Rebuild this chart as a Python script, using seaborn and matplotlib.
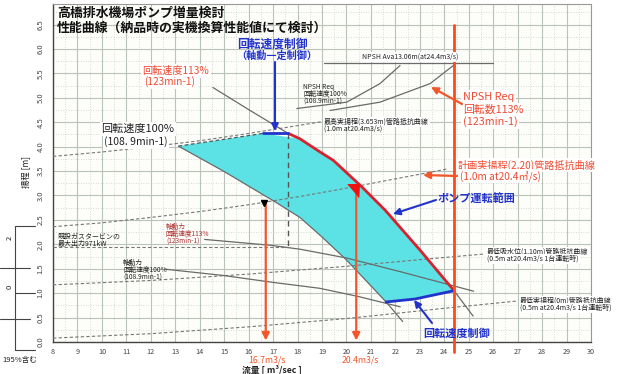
import numpy as np
import matplotlib
matplotlib.use("Agg")
import matplotlib.pyplot as plt
import seaborn as sns
from matplotlib.ticker import MultipleLocator

# ---------------- data (flow Q [m3/s], head H [m]) ----------------
q_qh100 = [13.13, 15.0, 17.08, 18.1, 19.0, 20.0, 21.0, 21.62, 22.3]
h_qh100 = [4.01, 3.49, 2.87, 2.55, 2.15, 1.68, 1.15, 0.82, 0.42]

q_qh113 = [14.54, 16.06, 17.62, 18.1, 18.92, 19.46, 20.62, 21.58, 23.01, 24.4, 25.18]
h_qh113 = [5.21, 4.74, 4.27, 4.16, 3.89, 3.72, 3.18, 2.70, 1.88, 1.05, 0.53]

q_range_top = [13.13, 16.58]
h_range_top = [4.01, 4.27]
q_speed_top = [16.58, 17.62]
h_speed_top = [4.27, 4.27]
q_speed_bot = [21.62, 22.8, 24.4]
h_speed_bot = [0.82, 0.88, 1.05]

q_sys_max = [8, 10, 12, 14, 16, 18, 19.6]
h_sys_max = [3.80, 3.89, 4.00, 4.12, 4.27, 4.43, 4.56]
q_sys_plan = [8, 10, 12, 14, 16, 18, 20, 22, 24.1]
h_sys_plan = [2.36, 2.44, 2.55, 2.67, 2.81, 2.97, 3.15, 3.34, 3.54]
q_sys_lowwl = [8, 12, 16, 20, 24, 25.6]
h_sys_lowwl = [1.17, 1.26, 1.39, 1.55, 1.73, 1.80]
q_sys_min = [8, 12, 16, 20, 24, 27.0]
h_sys_min = [0.08, 0.17, 0.31, 0.48, 0.69, 0.84]

q_pow113 = [14.2, 16.9, 18.1, 20.0, 22.2, 24.0, 25.2]
h_pow113 = [2.10, 1.98, 1.90, 1.72, 1.44, 1.20, 1.04]
q_pow100 = [12.6, 15.0, 17.0, 18.9, 20.5, 22.2]
h_pow100 = [1.49, 1.36, 1.22, 1.10, 0.93, 0.72]
q_gt_limit = [8, 17.62]
h_gt_limit = [1.94, 1.94]
q_maxpow_v = [17.62, 17.62]
h_maxpow_v = [4.27, 1.94]

q_npsh100 = [17.97, 20.01, 21.37, 22.19]
h_npsh100 = [4.78, 4.91, 5.29, 5.66]
q_npsh113 = [19.33, 21.37, 23.42, 24.37]
h_npsh113 = [4.74, 4.91, 5.29, 5.66]
q_npsh_ava = [19.1, 26.0]
h_npsh_ava = [5.72, 5.72]

q_ops = [16.7, 20.4]
h_ops = [2.82, 3.12]
q_limit = 24.4

x_ticks = list(range(8, 31))
y_ticks = [i * 0.5 for i in range(14)]

# ---------------- style ----------------
sns.set_style("white")
plt.rcParams['font.family'] = ['Noto Sans CJK JP', 'DejaVu Sans']

BLUE = "#2233cc"
RED = "#d8232f"
ORANGE = "#f2562a"
GRAY = "#6a6a6a"
CYAN = "#5ce2e5"

fig = plt.figure(figsize=(6.29, 3.74), dpi=100)
fig.patch.set_facecolor("white")
ax = fig.add_axes([53/629, 32/374, 538/629, 338/374])
ax.set_facecolor("#fdfdf9")
ax.set_xlim(8, 30)
ax.set_ylim(0, 6.92)

# grid
ax.set_xticks(x_ticks)
ax.set_yticks(y_ticks)
ax.xaxis.set_minor_locator(MultipleLocator(0.2))
ax.yaxis.set_minor_locator(MultipleLocator(0.1))
ax.grid(True, which='major', color="#b9c3b9", lw=0.8)
for xv in np.arange(8.5, 30, 1.0):
    ax.axvline(xv, color="#c9d0c9", lw=0.6, ls=(0, (1, 2)), zorder=0)
for yv in np.arange(0.25, 6.92, 0.5):
    ax.axhline(yv, color="#c9d0c9", lw=0.6, ls=(0, (1, 2)), zorder=0)

ax.set_xticklabels([str(v) for v in x_ticks], fontsize=5.2, color="#444")
ax.set_yticklabels(["%.1f" % v for v in y_ticks], fontsize=5.5, color="#444")
ax.tick_params(axis='y', labelrotation=90, which='major', length=4, width=0.8, pad=2, color="#444")
ax.tick_params(axis='x', which='major', length=3, width=0.8, pad=1, color="#444")
ax.tick_params(which='minor', length=2, width=0.6, color="#555")
for lab in ax.get_yticklabels():
    lab.set_va('center')
for s in ['left', 'bottom']:
    ax.spines[s].set_color("#444")
    ax.spines[s].set_linewidth(1.0)
for s in ['top', 'right']:
    ax.spines[s].set_color("#999")
    ax.spines[s].set_linewidth(0.8)
ax.set_xlabel("")
ax.set_ylabel("")

# operating range polygon
poly_q = (q_range_top + q_qh113[3:10] + q_speed_bot[::-1][1:] + q_qh100[:8][::-1][1:])
poly_h = (h_range_top + h_qh113[3:10] + h_speed_bot[::-1][1:] + h_qh100[:8][::-1][1:])
ax.fill(poly_q, poly_h, color=CYAN, lw=0, zorder=2)

def line(q, h, **kw):
    sns.lineplot(x=q, y=h, ax=ax, sort=False, estimator=None, legend=False, **kw)

# system curves (dashed)
dash = (0, (3, 2))
for q, h in [(q_sys_max, h_sys_max), (q_sys_plan, h_sys_plan),
             (q_sys_lowwl, h_sys_lowwl), (q_sys_min, h_sys_min), (q_gt_limit, h_gt_limit)]:
    line(q, h, color="#777", lw=0.8, linestyle=dash, zorder=3)
line(q_range_top, h_range_top, color="#555", lw=0.9, linestyle=dash, zorder=4)
line(q_maxpow_v, h_maxpow_v, color="#555", lw=1.0, linestyle=(0, (4, 3)), zorder=4)

# pump curves
line(q_qh100, h_qh100, color=GRAY, lw=0.9, zorder=4)
line(q_qh113, h_qh113, color=GRAY, lw=0.9, zorder=4)
line(q_pow113, h_pow113, color=GRAY, lw=0.9, zorder=4)
line(q_pow100, h_pow100, color=GRAY, lw=0.9, zorder=4)
line(q_npsh100, h_npsh100, color=GRAY, lw=0.9, zorder=4)
line(q_npsh113, h_npsh113, color=GRAY, lw=0.9, zorder=4)
line(q_npsh_ava, h_npsh_ava, color=GRAY, lw=0.9, zorder=4)

# range boundaries
line(q_qh113[2:10], h_qh113[2:10], color=RED, lw=2.0, zorder=5)
line(q_speed_top, h_speed_top, color=BLUE, lw=2.0, zorder=5)
line(q_speed_bot, h_speed_bot, color=BLUE, lw=2.0, zorder=5)

# limit line
ax.plot([q_limit, q_limit], [6.48, -0.2], color="#ff4a1c", lw=2.0, zorder=6, clip_on=False)

# operating point arrows
for q, h in zip(q_ops, h_ops):
    ax.annotate('', xy=(q, 0.03), xytext=(q, h),
                arrowprops=dict(arrowstyle='-|>', color=ORANGE, lw=1.6, mutation_scale=11,
                                shrinkA=0, shrinkB=0), zorder=6)
ax.plot([q_ops[0] - 0.07], [h_ops[0] + 0.03], marker='v', color='black', ms=4, zorder=7)
ax.plot([q_ops[1] - 0.15], [h_ops[1]], marker=[(-1, 1), (1, 1), (0.9, -1.2)],
        color="#ee1111", ms=10, zorder=7)

# ---------------- annotations (overlay in pixel coords) ----------------
ov = fig.add_axes([0, 0, 1, 1])
ov.set_xlim(0, 629)
ov.set_ylim(374, 0)
ov.axis('off')
ov.patch.set_alpha(0)

def T(x, y, s, size=5, color='#222', ha='left', va='center', weight='normal', box=False,
      edge=False, rot=0):
    kw = {}
    if box:
        kw['bbox'] = dict(boxstyle='square,pad=0.15', fc='white',
                          ec=('#888' if edge else 'none'), lw=0.5)
    ov.text(x, y, s, fontsize=size, color=color, ha=ha, va=va, fontweight=weight,
            rotation=rot, **kw)

def A(x0, y0, x1, y1, color, lw=1.5, ms=10):
    ov.annotate('', xy=(x1, y1), xytext=(x0, y0),
                arrowprops=dict(arrowstyle='-|>', color=color, lw=lw, mutation_scale=ms,
                                shrinkA=0, shrinkB=0))

T(57, 13, "高橋排水機場ポンプ増量検討", size=9.3, color='#111', weight='bold')
T(57, 28, "性能曲線（納品時の実機換算性能値にて検討）", size=9.3, color='#111', weight='bold')

T(272, 44, "回転速度制御", size=8.5, color=BLUE, ha='center', weight='bold')
T(277, 56, "（軸動一定制御）", size=7.3, color=BLUE, ha='center', weight='bold')
A(275, 62, 275, 131, BLUE)

T(176, 71, "回転速度113%", size=7.3, color="#f04a30", ha='center', box=True)
T(170, 82, "(123min-1)", size=7.3, color="#f04a30", ha='center', box=True)

T(138, 129, "回転速度100%", size=8, color='#222', ha='center', box=True)
T(136, 142, "(108. 9min-1)", size=7.5, color='#222', ha='center', box=True)

T(410, 57, "NPSH Ava13.06m(at24.4m3/s)", size=5, ha='center', box=True)
T(303, 87, "NPSH Req", size=4.8)
T(303, 94, "回転速度100%", size=4.8)
T(303, 101, "(108.9min-1)", size=4.8)

T(463, 97, "NPSH Req", size=7.8, color="#f04a30", box=True)
T(463, 110, "回転数113%", size=7.8, color="#f04a30", box=True)
T(463, 122, "(123min-1)", size=7.8, color="#f04a30", box=True)
A(462, 104, 431, 87, ORANGE, lw=1.6)

T(324, 122, "最高実揚程(3.653m)管路抵抗曲線", size=5, box=True, edge=False)
T(324, 129, "(1.0m at20.4m3/s)", size=5)

T(458, 165, "計画実揚程(2.20)管路抵抗曲線", size=7.3, color="#f04a30", box=True)
T(460, 176, "(1.0m at20.4㎥/s)", size=7.3, color="#f04a30", box=True)
A(457, 176, 423, 175, ORANGE, lw=1.6)

T(438, 198, "ポンプ運転範囲", size=8, color=BLUE, weight='bold')
A(436, 200, 393, 214, BLUE)

T(58, 237, "既設ガスタービンの", size=5)
T(58, 244, "最大出力971kW", size=5)

T(166, 227, "軸動力", size=4.8, color="#b03030")
T(166, 234, "回転速度113%", size=4.8, color="#b03030")
T(166, 241, "(123min-1)", size=4.8, color="#b03030")

T(123, 263, "軸動力", size=4.8)
T(123, 270, "回転速度100%", size=4.8)
T(123, 277, "(108.9min-1)", size=4.8)

T(487, 252, "最低吸水位(1.10m)管路抵抗曲線", size=5, box=True)
T(487, 259, "(0.5m at20.4m3/s 1台運転時)", size=5, box=True)
T(520, 301, "最低実揚程(0m)管路抵抗曲線", size=5, box=True)
T(520, 308, "(0.5m at20.4m3/s 1台運転時)", size=5, box=True)

T(457, 333, "回転速度制御", size=8, color=BLUE, ha='center', weight='bold')
A(432, 323, 414, 300, BLUE)

T(267, 360, "16.7m3/s", size=6.3, color=ORANGE, ha='center')
T(360, 360, "20.4m3/s", size=6.3, color=ORANGE, ha='center')
T(272, 369.5, "流量 [ m³/sec ]", size=6.3, color='#222', ha='center', weight='bold')
T(27, 172, "揚程 [m]", size=6, color='#222', ha='center', rot=90)

# partial secondary scale at far left
ov.plot([15, 15], [226, 350], color='#444', lw=0.8)
for yy, x0, x1 in [(226, 15, 35), (268, 0, 30), (293, 15, 35), (319, 0, 30), (350, 15, 35)]:
    ov.plot([x0, x1], [yy, yy], color='#444', lw=0.8)
T(10, 238, "2", size=5.5, ha='center', rot=90)
T(10, 287, "0", size=5.5, ha='center', rot=90)
T(2, 360, "195%含む", size=5.5)

fig.savefig("out.png", dpi=100)
